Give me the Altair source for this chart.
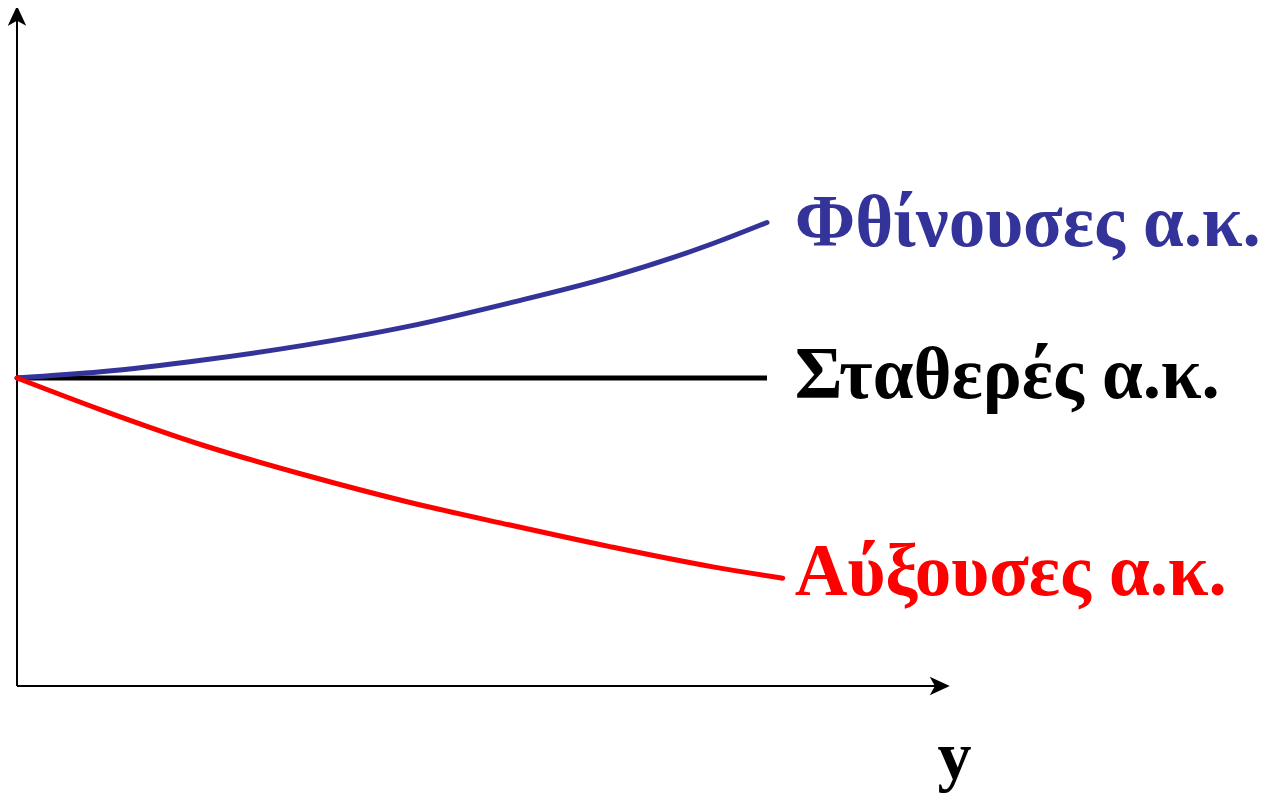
import altair as alt
import pandas as pd

# ---- data ----
x_dec = [0.0, 1.12, 2.48, 3.84, 5.2, 6.56, 7.92, 9.28, 10.0]
y_dec = [6.00, 6.12, 6.35, 6.64, 7.00, 7.46, 7.97, 8.62, 9.03]

x_const = [0.0, 10.0]
y_const = [6.00, 6.00]

x_inc = [0.0, 1.12, 2.48, 3.84, 5.2, 6.56, 7.92, 9.28, 10.21]
y_inc = [6.00, 5.38, 4.69, 4.11, 3.59, 3.14, 2.71, 2.32, 2.10]

series_names = ["Φθίνουσες α.κ.", "Σταθερές α.κ.", "Αύξουσες α.κ."]
series_colors = ["#333399", "#000000", "#FF0000"]
label_x = [10.37, 10.37, 10.37]
label_y = [8.57, 5.61, 1.77]

axis_x_end = 12.3
axis_y_end = 13.05
xlabel = "y"
xlabel_pos = (12.5, -1.81)

# ---- tables ----
rows = []
for name, xs, ys in zip(series_names, [x_dec, x_const, x_inc], [y_dec, y_const, y_inc]):
    for i, (a, b) in enumerate(zip(xs, ys)):
        rows.append({"series": name, "x": a, "y": b, "i": i})
curves = pd.DataFrame(rows)
labels = pd.DataFrame({"series": series_names, "x": label_x, "y": label_y})

W, H = 1263, 786
# scale domains: 75 px per x unit, 51.333 px per y unit, origin at page (17, 686)
xs_scale = alt.Scale(domain=[-0.12, 16.72], nice=False, zero=False)
ys_scale = alt.Scale(domain=[-2.104, 13.208], nice=False, zero=False)
color_scale = alt.Scale(domain=series_names, range=series_colors)

X = lambda f="x": alt.X(f"{f}:Q", scale=xs_scale, axis=None)
Y = lambda f="y": alt.Y(f"{f}:Q", scale=ys_scale, axis=None)

curves_c = alt.Chart(curves).transform_filter(
    alt.datum.series != series_names[1]
).mark_line(strokeWidth=5, strokeCap="round", interpolate="monotone").encode(
    x=X(), y=Y(), order="i:Q",
    color=alt.Color("series:N", scale=color_scale, legend=None),
)
const_c = alt.Chart(curves).transform_filter(
    alt.datum.series == series_names[1]
).mark_line(strokeWidth=5, strokeCap="butt").encode(
    x=X(), y=Y(), order="i:Q",
    color=alt.Color("series:N", scale=color_scale, legend=None),
)

axes_df = pd.DataFrame({"x": [0.0, 0.0], "y": [0.0, 0.0], "x2": [axis_x_end, 0.0], "y2": [0.0, axis_y_end]})
axes_c = alt.Chart(axes_df).mark_rule(color="black", strokeWidth=2).encode(
    x=X(), y=Y(), x2="x2:Q", y2="y2:Q"
)

arrow_path = "M0,-1 L0.9,0.95 L0,0.45 L-0.9,0.95 Z"
heads_df = pd.DataFrame({"x": [axis_x_end, 0.0], "y": [0.0, axis_y_end], "ang": [90, 0]})
heads_c = alt.Chart(heads_df).mark_point(
    shape=arrow_path, filled=True, color="black", opacity=1, size=420, strokeWidth=0
).encode(x=X(), y=Y(), angle=alt.Angle("ang:Q", scale=None))

text_c = alt.Chart(labels).mark_text(
    align="left", baseline="alphabetic", font="Liberation Serif",
    fontWeight="bold", fontSize=73,
).encode(
    x=X(), y=Y(), text="series:N",
    color=alt.Color("series:N", scale=color_scale, legend=None),
)

xl_df = pd.DataFrame({"x": [xlabel_pos[0]], "y": [xlabel_pos[1]], "t": [xlabel]})
xl_c = alt.Chart(xl_df).mark_text(
    align="center", baseline="alphabetic", font="Liberation Serif",
    fontWeight="bold", fontSize=68, color="black",
).encode(x=X(), y=Y(), text="t:N")

chart = alt.layer(axes_c, heads_c, const_c, curves_c, text_c, xl_c).properties(
    width=W, height=H, padding=0, autosize=alt.AutoSizeParams(type="none"),
    background="white",
).configure_view(stroke=None)

chart.save("out.html", embed_options={"renderer": "svg", "actions": False})
